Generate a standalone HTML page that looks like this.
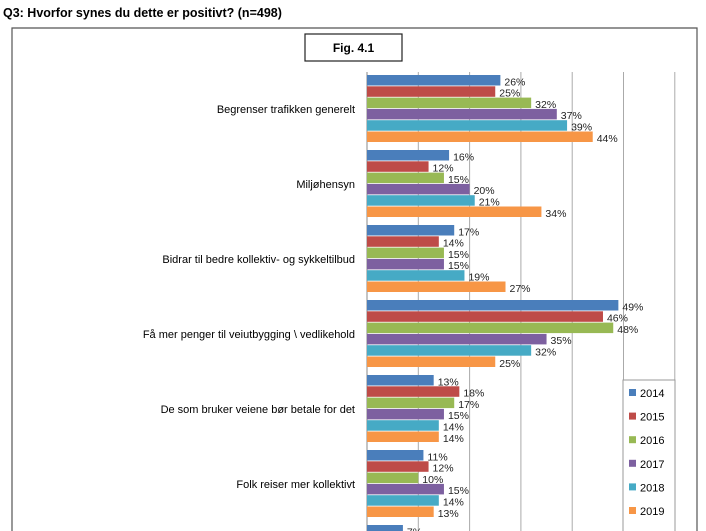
<!DOCTYPE html>
<html><head><meta charset="utf-8"><style>
html,body{margin:0;padding:0;background:#fff;width:706px;height:531px;overflow:hidden;font-family:"Liberation Sans",sans-serif}
svg{display:block}
</style></head><body>
<svg width="706" height="531" viewBox="0 0 706 531" xmlns="http://www.w3.org/2000/svg" overflow="hidden">
<defs><clipPath id="clip"><rect x="0" y="0" width="706" height="531"/></clipPath></defs>
<text x="3" y="17" font-size="12.5" font-weight="bold" fill="#000">Q3: Hvorfor synes du dette er positivt? (n=498)</text>
<path d="M12 531 V28 H697 V531" fill="none" stroke="#555" stroke-width="1.2"/>
<rect x="305" y="34" width="97" height="27" fill="#fff" stroke="#222" stroke-width="1.2"/>
<text x="353.5" y="52" font-size="12" font-weight="bold" text-anchor="middle">Fig. 4.1</text>
<g clip-path="url(#clip)"><g id="grid"></g><g id="bars"></g><g id="cats"></g></g>
<rect x="623" y="380" width="52" height="160" fill="#fff" stroke="#999"/>
<g id="legend"></g>
</svg>
<script>
const categories=["Begrenser trafikken generelt","Miljøhensyn","Bidrar til bedre kollektiv- og sykkeltilbud","Få mer penger til veiutbygging \\ vedlikehold","De som bruker veiene bør betale for det","Folk reiser mer kollektivt","Annet"];
const years=["2014","2015","2016","2017","2018","2019"];
const s2014=[26,16,17,49,13,11,7];
const s2015=[25,12,14,46,18,12,8];
const s2016=[32,15,15,48,17,10,8];
const s2017=[37,20,15,35,15,15,9];
const s2018=[39,21,19,32,14,14,9];
const s2019=[44,34,27,25,14,13,10];
const gridTicks=[0,10,20,30,40,50,60];
const series=[s2014,s2015,s2016,s2017,s2018,s2019];
const colors=["#4a7ebb","#be4b48","#98b954","#7d60a0","#46aac5","#f79646"];
const NS="http://www.w3.org/2000/svg";
const x0=367,pp=5.13,gy0=75,gstep=75,bh=11.3;
const X=v=>x0+v*pp;
function mk(t,a,p){const e=document.createElementNS(NS,t);for(const k in a)e.setAttribute(k,a[k]);p.appendChild(e);return e;}
const G=document.getElementById('grid'),B=document.getElementById('bars'),C=document.getElementById('cats'),L=document.getElementById('legend');
gridTicks.forEach(t=>{const l=mk('line',{x1:X(t),x2:X(t),y1:72,y2:531,stroke:t==0?'#888':'#aaa','stroke-width':1},G);

});
categories.forEach((c,i)=>{const gy=gy0+i*gstep;
const t=mk('text',{x:355,y:gy+bh*3+4,'font-size':11,'text-anchor':'end',fill:'#000'},C);t.textContent=c;


series.forEach((s,j)=>{const y=gy+j*bh;
const r=mk('rect',{x:x0,y:y,width:s[i]*pp,height:bh-0.8,fill:colors[j]},B);


const v=mk('text',{x:X(s[i])+4,y:y+bh-1,'font-size':10.5,fill:'#222'},B);v.textContent=s[i]+'%';

});});
years.forEach((yr,j)=>{const y=393+j*23.6;
const r=mk('rect',{x:629,y:y-4,width:7,height:7,fill:colors[j]},L);


const t=mk('text',{x:640,y:y+4,'font-size':11,fill:'#000'},L);t.textContent=yr;

});
</script>
</body></html>
